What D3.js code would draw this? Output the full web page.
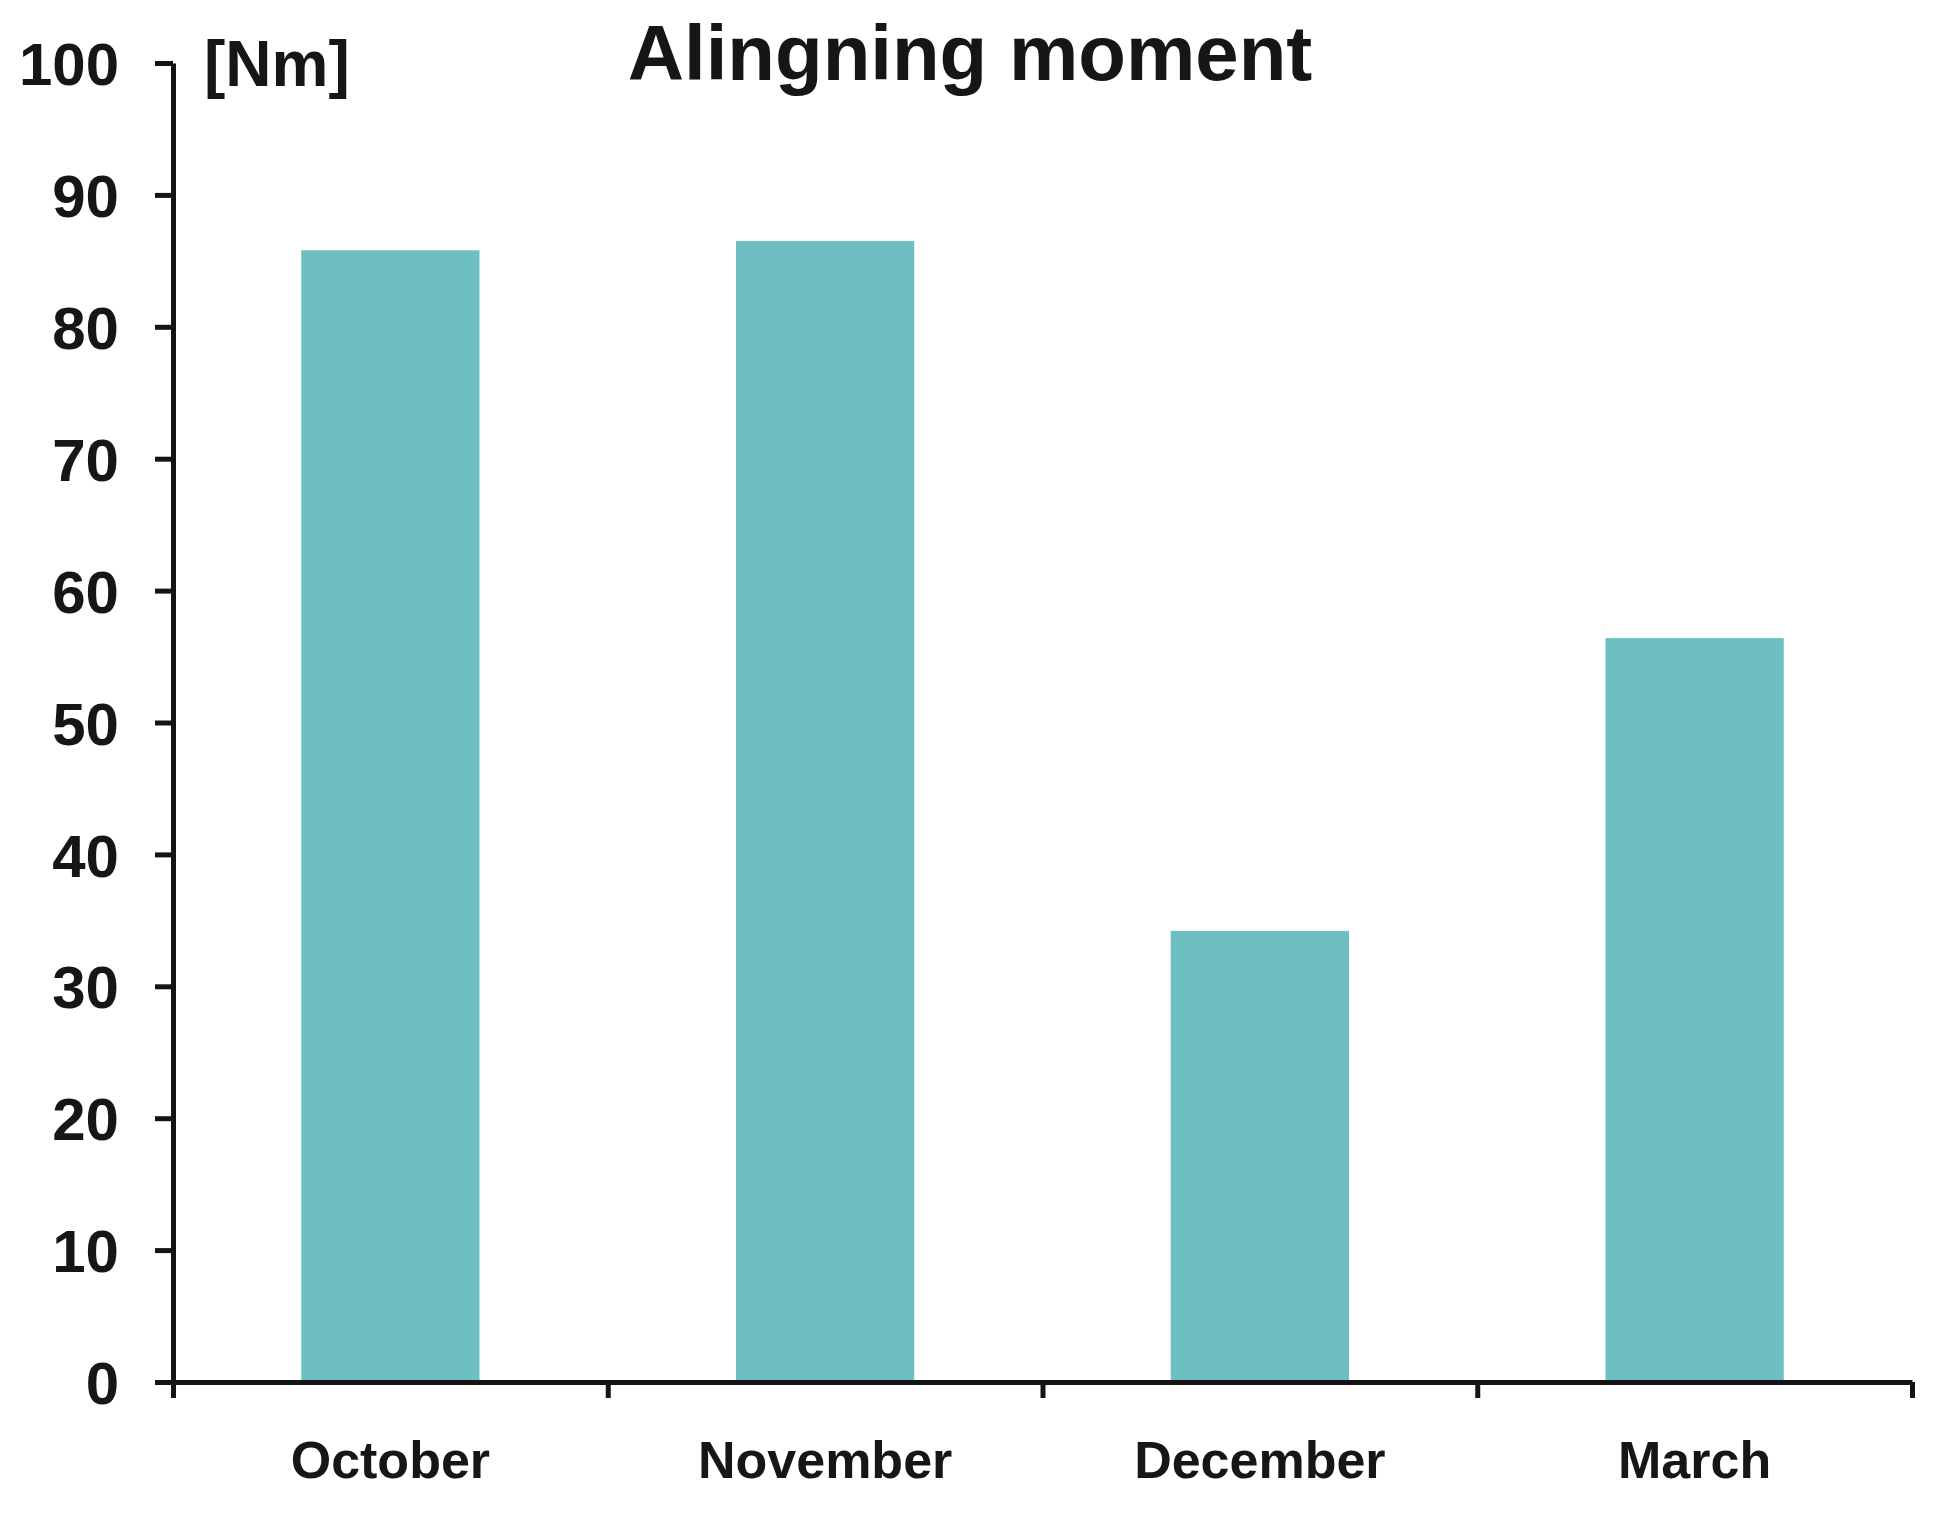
<!DOCTYPE html>
<html>
<head>
<meta charset="utf-8">
<script src="https://cdn.jsdelivr.net/npm/d3@7/dist/d3.min.js"></script>
<style>
  html, body { margin: 0; padding: 0; background: #ffffff; }
  svg { display: block; }
  text { font-family: "Liberation Sans", Arial, Helvetica, sans-serif; font-weight: bold; fill: #161616; }
</style>
</head>
<body>
<svg id="chart" width="1938" height="1528"></svg>
<script>
const categories = ["October", "November", "December", "March"];
const values = [85.8, 86.5, 34.2, 56.4];
const yTicks = [0, 10, 20, 30, 40, 50, 60, 70, 80, 90, 100];
const titleText = "Alingning moment";
const unitText = "[Nm]";

const W = 1938, H = 1528;
const margin = { left: 173, right: 26, top: 63, bottom: 146 };
const innerW = W - margin.left - margin.right;
const innerH = H - margin.top - margin.bottom;

const svg = d3.select("#chart");
const g = svg.append("g").attr("transform", `translate(${margin.left},${margin.top})`);

const x = d3.scaleBand().domain(categories).range([0, innerW])
  .paddingInner(0.59).paddingOuter(0.295);
const xBound = d3.scaleLinear().domain([0, categories.length]).range([0, innerW]);
const y = d3.scaleLinear().domain([0, 100]).range([innerH, 0]);

const barColor = "#6dbfc2";
const axisColor = "#141414";

// bars
g.selectAll("rect.bar").data(values).enter().append("rect")
  .attr("class", "bar")
  .attr("x", (d, i) => x(categories[i]))
  .attr("width", x.bandwidth())
  .attr("y", d => y(d))
  .attr("height", d => y(0) - y(d))
  .attr("fill", barColor);

// y axis
const yAxis = g.append("g").call(
  d3.axisLeft(y).tickValues(yTicks).tickSize(18).tickSizeOuter(0).tickPadding(36)
);
yAxis.select(".domain").attr("stroke", axisColor).attr("stroke-width", 5);
yAxis.selectAll(".tick line").attr("stroke", axisColor).attr("stroke-width", 5);
yAxis.selectAll(".tick text").attr("font-size", 60).attr("fill", "#161616")
  .attr("font-family", "Liberation Sans, Arial, sans-serif").attr("font-weight", "bold")
  .attr("dy", "0.36em");

// x axis boundaries (ticks between categories)
const xAxisB = g.append("g").attr("transform", `translate(0,${innerH})`).call(
  d3.axisBottom(xBound).tickValues(d3.range(0, categories.length + 1)).tickSize(16).tickSizeOuter(0).tickFormat("")
);
xAxisB.select(".domain").attr("stroke", axisColor).attr("stroke-width", 5);
xAxisB.selectAll(".tick line").attr("stroke", axisColor).attr("stroke-width", 5);

// x labels
const xAxisL = g.append("g").attr("transform", `translate(0,${innerH})`).call(
  d3.axisBottom(x).tickSize(0).tickPadding(86)
);
xAxisL.select(".domain").remove();
xAxisL.selectAll(".tick text").attr("font-size", 52).attr("fill", "#161616")
  .attr("font-family", "Liberation Sans, Arial, sans-serif").attr("font-weight", "bold")
  .attr("dy", "0.2em");

// unit label
svg.append("text").attr("x", 204).attr("y", 86).attr("font-size", 64).text(unitText);

// title
svg.append("text").attr("x", 970).attr("y", 80).attr("text-anchor", "middle")
  .attr("font-size", 78).text(titleText);
</script>
</body>
</html>
